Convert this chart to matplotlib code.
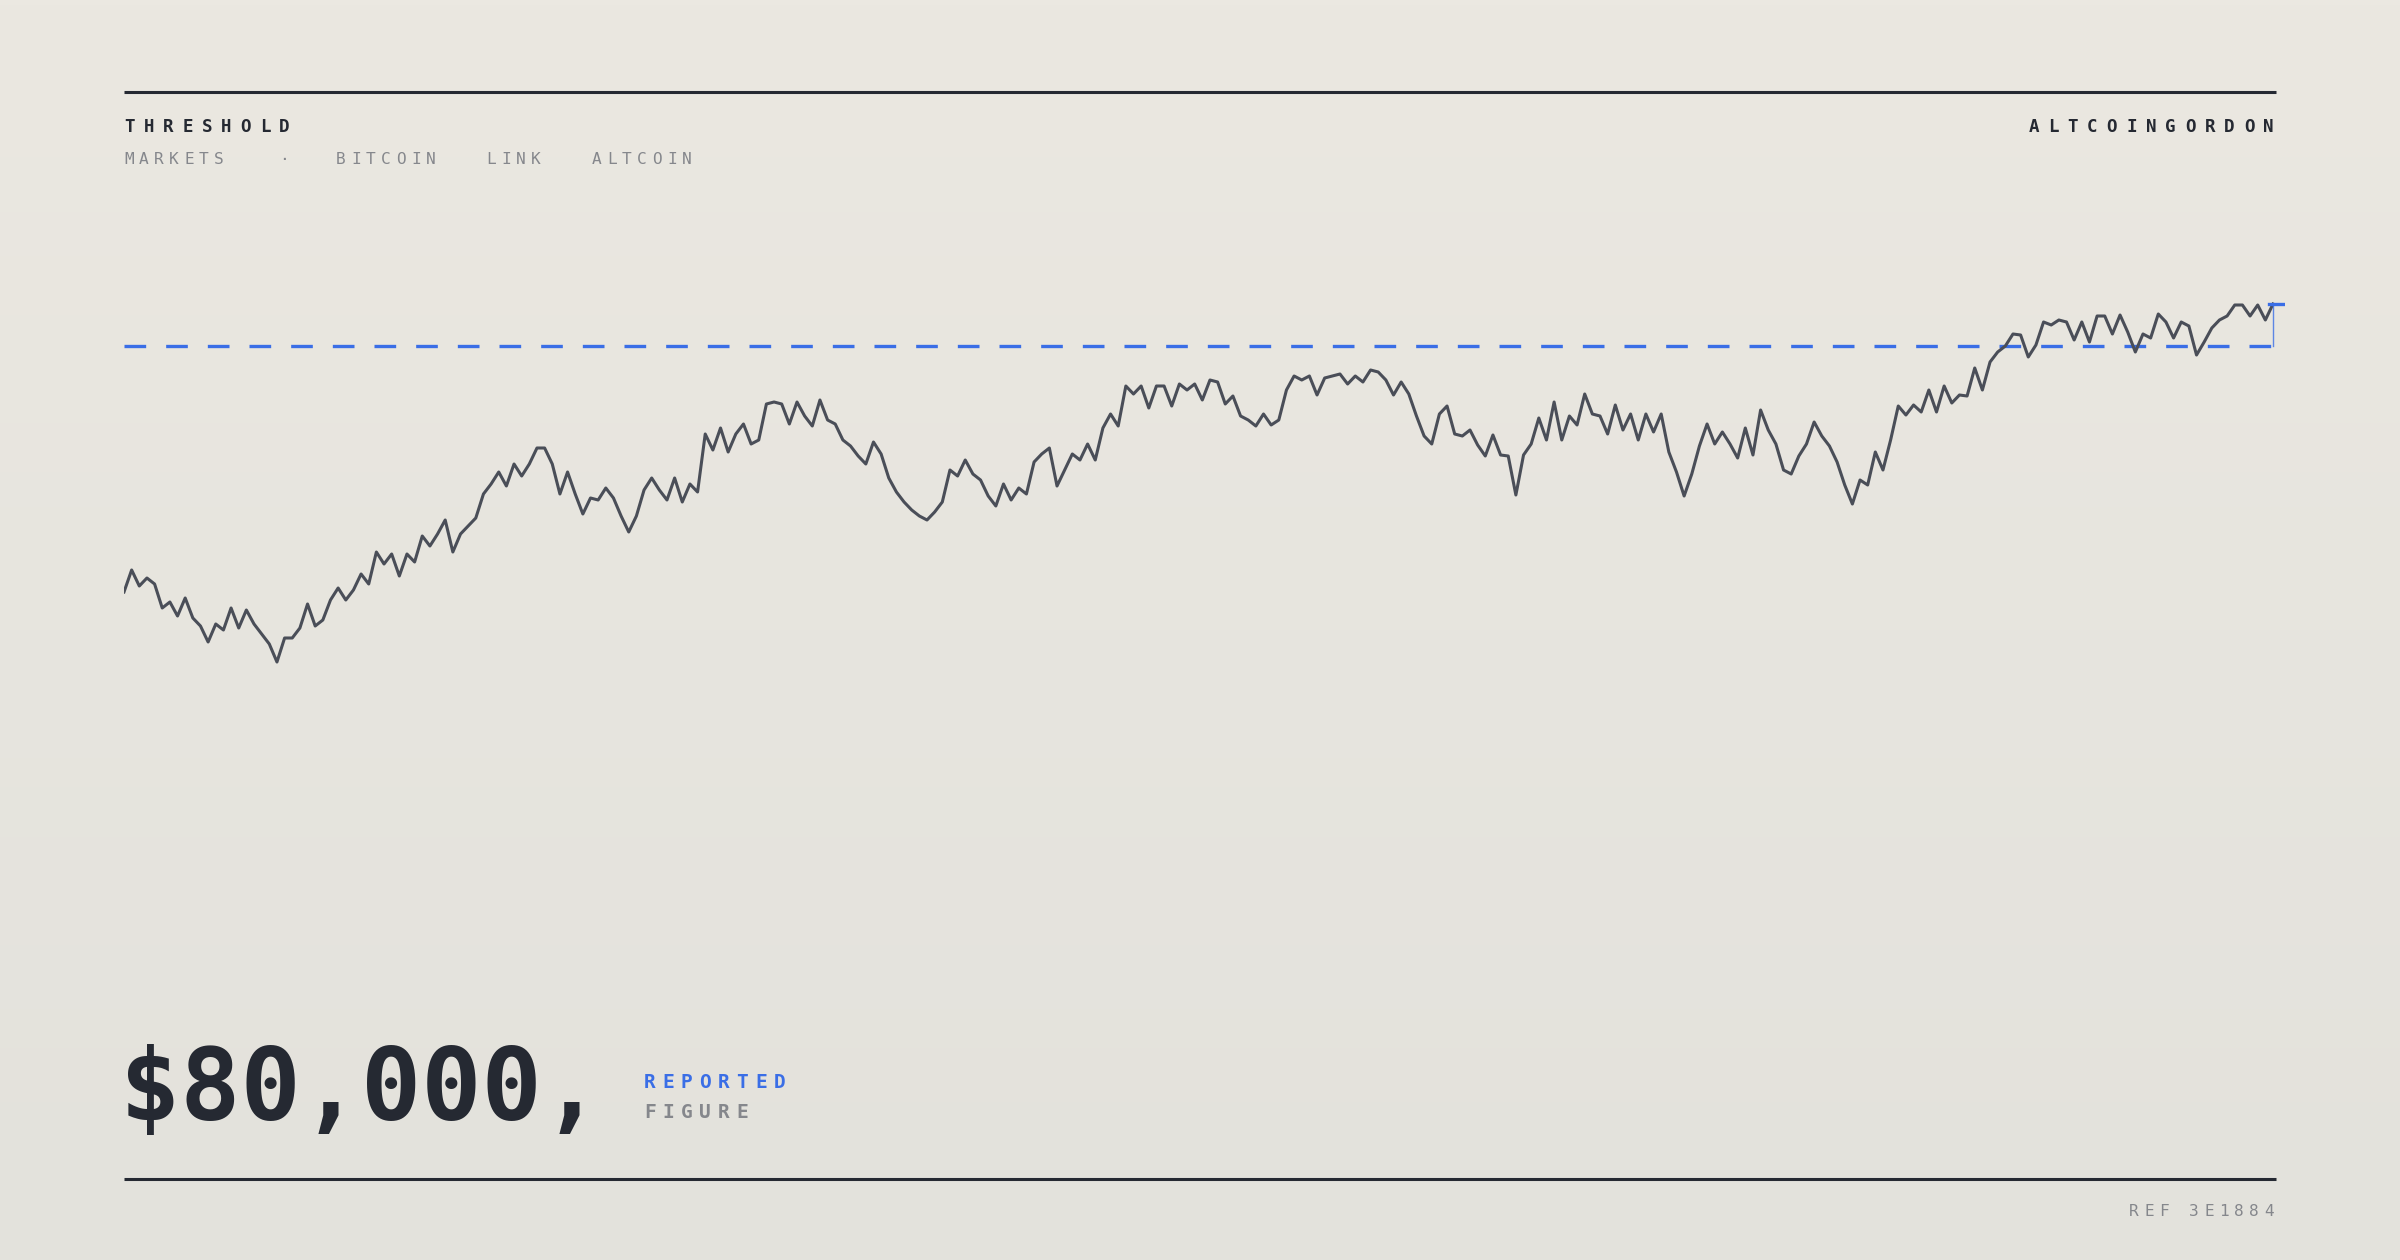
import numpy as np
import matplotlib
matplotlib.use("Agg")
import matplotlib.pyplot as plt

# price in thousands of USD
prices_a = [67.7,68.8,68.0,68.4,68.1,66.9,67.2,66.5,67.4,66.4,66.0,65.2,66.1,65.8,66.9,65.9,66.8,66.1,65.6,65.1,
64.2,65.4,65.4,65.9,67.1,66.0,66.3,67.3,67.9,67.3,67.8,68.6,68.1,69.7,69.1,69.6,68.5,69.6,69.2,70.5,
70.0,70.6,71.3,69.7,70.6,71.0,71.4,72.6,73.1,73.7,73.0,74.1,73.5,74.1,74.9,74.9,74.1,72.6,73.7,72.6,
71.6,72.4,72.3,72.9,72.4,71.5,70.7,71.5,72.8,73.4,72.8,72.3,73.4,72.2,73.1,72.7,75.6,74.8,75.9,74.7,
75.6,76.1,75.1,75.3,77.1,77.2,77.1,76.1,77.2,76.5,76.0,77.3,76.3,76.1,75.3,75.0,74.5,74.1,75.2,74.6,
73.4,72.7,72.2,71.8,71.5,71.3,71.7,72.2,73.8,73.5,74.3,73.6,73.3,72.5,72.0,73.1,72.3,72.9,72.6,74.2,
74.6,74.9,73.0,73.8,74.6,74.3,75.1,74.3,75.9,76.6,76.0,78.0,77.6,78.0,76.9,78.0,78.0,77.0,78.1,77.8,
78.1,77.3,78.3,78.2,77.1,77.5,76.5]
prices_b = [76.3,76.0,76.6,76.05,76.3,77.8,78.5,78.3,78.5,77.55,78.4,78.5,78.6,78.1,78.5,78.2,78.8,78.7,78.3,77.55,
78.2,77.6,76.5,75.5,75.1,76.6,77.0,75.6,75.5,75.8,75.05,74.5,75.55,74.55,74.5,72.55,74.55,75.1,76.4,75.3,
77.2,75.3,76.5,76.05,77.6,76.6,76.5,75.6,77.05,75.8,76.6,75.3,76.6,75.7,76.6,74.7,73.7,72.5,73.6,75.0,
76.1,75.1,75.7,75.1,74.4,75.9,74.55,76.8,75.8,75.1,73.8,73.6,74.5,75.1,76.2,75.5,75.0,74.2,73.05,72.1,
73.3,73.05,74.7,73.8,75.3,77.0,76.55,77.05,76.7,77.8,76.7,78.0,77.15,77.55,77.5,78.9,77.8,79.2,79.7,80.0,
80.6,80.55,79.45,80.05,81.2,81.05,81.3,81.2,80.3,81.2,80.2,81.5,81.5,80.6,81.55,80.7,79.7,80.6,80.4,81.6,
81.2,80.4,81.2,81.0,79.55,80.2,80.9,81.3,81.5,82.05,82.05,81.5,82.05,81.3,82.1]
prices = prices_a + prices_b
threshold = 80.0

title = "THRESHOLD"
nav_items = ["MARKETS", "·", "BITCOIN", "LINK", "ALTCOIN"]
brand = "ALTCOINGORDON"
figure_text = "$80,000,"
label_top = "REPORTED"
label_bottom = "FIGURE"
ref_text = "REF 3E1884"

W, H = 2400, 1260
DPI = 200
fig = plt.figure(figsize=(W / DPI, H / DPI), dpi=DPI)

bg = fig.add_axes([0, 0, 1, 1])
top = np.array([235, 232, 225]) / 255
bot = np.array([227, 226, 220]) / 255
t = np.linspace(0, 1, 256)[:, None, None]
grad = top * (1 - t) + bot * t
grad = np.repeat(grad, 2, axis=1)
bg.imshow(grad, aspect="auto", extent=[0, 1, 0, 1])
bg.set_xlim(0, 1); bg.set_ylim(0, 1)
bg.axis("off")

def fx(x): return x / W
def fy(y): return 1 - y / H

INK = "#252932"
GREY = "#85878c"
BLUE = "#3a6ee6"
MONO = "DejaVu Sans Mono"

for yy in (92, 1179):
    bg.plot([fx(124), fx(2276)], [fy(yy), fy(yy)], color=INK, lw=1.1, solid_capstyle="butt")

def tracked(s, x, y, pitch, size, color, weight="normal", right=False):
    n = len(s)
    if right:
        charw = 0.6 * size * DPI / 72
        x = x - pitch * (n - 1) - charw
    for i, ch in enumerate(s):
        fig.text(fx(x + i * pitch), fy(y), ch, fontsize=size, color=color,
                 fontweight=weight, family=MONO, ha="left", va="center")

tracked(title, 124, 127, 19.4, 6.3, INK, "bold")
tracked(brand, 2274, 127, 19.6, 6.3, INK, "bold", right=True)
for item, xs in zip(nav_items, [124, 279, 336, 486, 592]):
    tracked(item, xs, 160, 15.0, 5.8, GREY)
tracked(label_top, 644, 1082, 18.5, 7.0, BLUE, "bold")
tracked(label_bottom, 644, 1112, 18.5, 7.0, GREY, "bold")
tracked(ref_text, 2274, 1212, 15.0, 5.8, GREY, right=True)

fig.text(fx(120), fy(1120), figure_text, fontsize=36, fontweight="bold",
         family=MONO, color=INK, ha="left", va="baseline")

ytop, ybot = 200, 900
ax = fig.add_axes([fx(124), fy(ybot), (2285 - 124) / W, (ybot - ytop) / H])
ax.patch.set_alpha(0)
ax.axis("off")
n = len(prices)
xs = np.arange(n)
xmax = (n - 1) * (2285 - 124) / (2273 - 124)
ax.set_xlim(0, xmax)
ax.set_ylim(threshold - (ybot - 346) * 0.05, threshold + (346 - ytop) * 0.05)
ax.axhline(threshold, color=BLUE, lw=1.2, dashes=(6.5, 6))
ax.plot(xs, prices, color="#4a4e58", lw=1.1, solid_joinstyle="round")
ax.plot([n - 1, n - 1], [threshold, prices[-1]], color=BLUE, lw=0.5, alpha=0.8)
ax.plot([n - 1.5, xmax], [prices[-1], prices[-1]], color=BLUE, lw=1.2)

fig.savefig("out.png", dpi=DPI)
